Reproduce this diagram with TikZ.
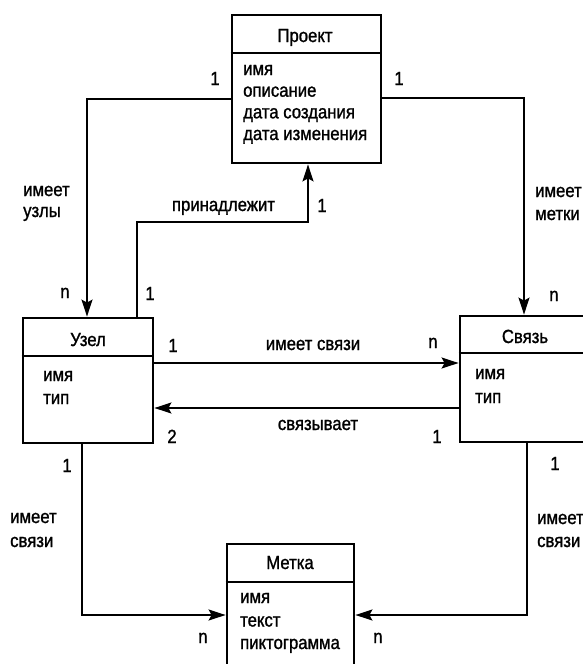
\documentclass[tikz,border=0pt]{standalone}
\usepackage{fontspec}
\newfontfamily\dfont{Liberation Sans}[FakeStretch=0.88,FakeBold=1.2]
\usetikzlibrary{arrows.meta}
\begin{document}
\begin{tikzpicture}[x=1pt,y=-1pt,
  font=\dfont\fontsize{19}{22}\selectfont,
  classbox/.style={draw, line width=2.8pt, inner sep=0pt},
  sepline/.style={line width=1.9pt},
  conn/.style={line width=1.9pt},
  arrowed/.style={-{Stealth[length=17pt,width=11pt,inset=3pt]}},
  lbl/.style={anchor=base, inner sep=0pt},
  lblw/.style={anchor=base west, inner sep=0pt},
  attr/.style={anchor=base west, inner sep=0pt}]
\useasboundingbox (0,0) rectangle (583,664);
\clip (0,0) rectangle (583,664);

% class boxes
\node[classbox, minimum width=149pt, minimum height=148pt] (proj)  at (306.5,89)  {};
\node[classbox, minimum width=130pt, minimum height=125pt] (uzel)  at (88,380.5)  {};
\node[classbox, minimum width=130pt, minimum height=126pt] (svyaz) at (525,379)   {};
\node[classbox, minimum width=127pt, minimum height=156pt] (metka) at (290.5,622) {};

% title separators
\draw[sepline] (proj.west |- 0,53)   -- (proj.east |- 0,53);
\draw[sepline] (uzel.west |- 0,356)  -- (uzel.east |- 0,356);
\draw[sepline] (svyaz.west |- 0,353) -- (svyaz.east |- 0,353);
\draw[sepline] (metka.west |- 0,582) -- (metka.east |- 0,582);

% titles
\node[lbl] (tproj)  at (305,42)  {Проект};
\node[lbl] (tuzel)  at (88,346)  {Узел};
\node[lbl] (tsvyaz) at (525,343) {Связь};
\node[lbl] (tmetka) at (290,569) {Метка};

% attributes
\node[attr] (p1) at (243,75)    {имя};
\node[attr] (p2) at (243,96.7)  {описание};
\node[attr] (p3) at (243,118.3) {дата создания};
\node[attr] (p4) at (243,140)   {дата изменения};

\node[attr] (u1) at (43,381) {имя};
\node[attr] (u2) at (43,404) {тип};

\node[attr] (s1) at (475,379) {имя};
\node[attr] (s2) at (475,403) {тип};

\node[attr] (m1) at (240,603)   {имя};
\node[attr] (m2) at (240,626.5) {текст};
\node[attr] (m3) at (240,649)   {пиктограмма};

% connectors
\draw[conn,arrowed] (proj.west |- 0,99) -| (uzel.north -| 87,0);
\draw[conn,arrowed] (proj.east |- 0,98) -| (svyaz.north -| 524,0);
\draw[conn,arrowed] (uzel.north -| 137,0) |- (308,222) -- (proj.south -| 308,0);
\draw[conn,arrowed] (uzel.east |- 0,363) -- (svyaz.west |- 0,363);
\draw[conn,arrowed] (svyaz.west |- 0,408) -- (uzel.east |- 0,408);
\draw[conn,arrowed] (uzel.south -| 82,0) |- (metka.west |- 0,615);
\draw[conn,arrowed] (svyaz.south -| 527,0) |- (metka.east |- 0,615);

% connector labels
\node[lbl] (c1) at (215,85) {1};
\node[lbl] (c2) at (399,85) {1};
\node[lblw] (c3a) at (23,196) {имеет};
\node[lblw] (c3b) at (23,217) {узлы};
\node[lbl] (c4) at (65,298) {n};
\node[lbl] (c5) at (150,300) {1};
\node[lbl] (c6) at (223.5,211) {принадлежит};
\node[lbl] (c7) at (322,212) {1};
\node[lblw] (c8a) at (535,197) {имеет};
\node[lblw] (c8b) at (535,220) {метки};
\node[lbl] (c9) at (554,301) {n};
\node[lbl] (c10) at (173,352) {1};
\node[lbl] (c11) at (313,350) {имеет связи};
\node[lbl] (c12) at (433,348) {n};
\node[lbl] (c13) at (318,430) {связывает};
\node[lbl] (c14) at (172,443) {2};
\node[lbl] (c15) at (437,443) {1};
\node[lbl] (c16) at (67,472) {1};
\node[lblw] (c17a) at (10,523) {имеет};
\node[lblw] (c17b) at (10,547) {связи};
\node[lbl] (c18) at (203,643) {n};
\node[lbl] (c19) at (555,470) {1};
\node[lblw] (c20a) at (537,524) {имеет};
\node[lblw] (c20b) at (537,547) {связи};
\node[lbl] (c21) at (378,643) {n};
\end{tikzpicture}
\end{document}
